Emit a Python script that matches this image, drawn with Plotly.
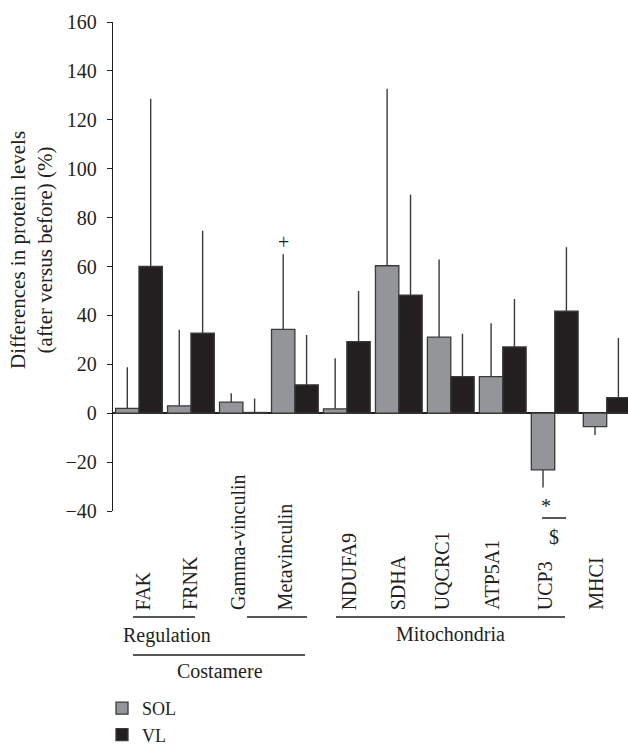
import plotly.graph_objects as go

# ---- data ----
categories = ["FAK", "FRNK", "Gamma-vinculin", "Metavinculin", "NDUFA9",
              "SDHA", "UQCRC1", "ATP5A1", "UCP3", "MHCI"]
sol_values = [2.0, 3.0, 4.5, 34.3, 1.8, 60.3, 31.1, 15.0, -23.2, -5.5]
sol_sd = [16.8, 31.1, 3.7, 30.7, 20.7, 72.4, 31.8, 21.8, 7.2, 3.4]
vl_values = [60.0, 32.7, 0.3, 11.6, 29.3, 48.3, 15.0, 27.1, 41.7, 6.4]
vl_sd = [68.6, 41.9, 5.7, 20.4, 20.7, 41.1, 17.5, 19.6, 26.2, 24.4]
series_names = ["SOL", "VL"]
y_ticks = [-40, -20, 0, 20, 40, 60, 80, 100, 120, 140, 160]
y_title = "Differences in protein levels<br>(after versus before) (%)"
group_labels = ["Regulation", "Costamere", "Mitochondria"]

# ---- layout constants (pixels) ----
W, H = 628, 747
ML, MT, PT, PB = 113, 22, 22, 511  # plot left, top margin, plot top/bottom px
PW, PH = W - ML, PB - PT
FONT = "Liberation Serif, Times New Roman, serif"
INK = "#231f20"
SOL_C = "#939598"
VL_C = "#231f20"
EDGE = "#3a3a3a"


def px_x(p):
    return (p - ML) / PW


def px_y(p):
    return (PB - p) / PH


def err_split(vals, sds):
    plus = [s if v >= 0 else 0 for v, s in zip(vals, sds)]
    minus = [s if v < 0 else 0 for v, s in zip(vals, sds)]
    return plus, minus


fig = go.Figure()
for name, vals, sds, col in [(series_names[0], sol_values, sol_sd, SOL_C),
                             (series_names[1], vl_values, vl_sd, VL_C)]:
    plus, minus = err_split(vals, sds)
    fig.add_trace(go.Bar(
        x=categories, y=vals, name=name,
        marker=dict(color=col, line=dict(color=EDGE, width=1.3)),
        error_y=dict(type="data", symmetric=False, array=plus, arrayminus=minus,
                     color=EDGE, thickness=1.4, width=0),
    ))

annotations = []
shapes = []

# y-axis title
annotations.append(dict(text=y_title, x=px_x(31), y=px_y(250), xref="paper", yref="paper",
                        textangle=-90, showarrow=False, xanchor="center", yanchor="middle",
                        font=dict(family=FONT, size=21, color=INK)))

# category labels, rotated, bottom-aligned
label_xshift = [4, -1, -5, -10, 2, -1, -9, -11, -10, -11]
for i, (c, dx) in enumerate(zip(categories, label_xshift)):
    annotations.append(dict(text=c, x=i, y=px_y(612), xref="x", yref="paper",
                            xshift=dx, textangle=-90, showarrow=False,
                            xanchor="center", yanchor="bottom",
                            font=dict(family=FONT, size=20, color=INK)))

# group lines
line_style = dict(color=INK, width=1.5)
for (x0, x1, yy) in [(133, 195, 617), (247, 307, 617), (336, 565, 617), (133, 305, 655),
                     (542, 566, 518)]:
    shapes.append(dict(type="line", xref="paper", yref="paper",
                       x0=px_x(x0), x1=px_x(x1), y0=px_y(yy), y1=px_y(yy), line=line_style))

# group label text
for txt, cx, cy in [(group_labels[0], 167, 635), (group_labels[1], 220, 671),
                    (group_labels[2], 450, 634)]:
    annotations.append(dict(text=txt, x=px_x(cx), y=px_y(cy), xref="paper", yref="paper",
                            showarrow=False, xanchor="center", yanchor="middle",
                            font=dict(family=FONT, size=20, color=INK)))

# significance marks
annotations.append(dict(text="+", x=3 - 0.225, y=70, xref="x", yref="y", showarrow=False,
                        xanchor="center", yanchor="middle",
                        font=dict(family=FONT, size=20, color=INK)))
annotations.append(dict(text="*", x=px_x(546), y=px_y(506), xref="paper", yref="paper",
                        showarrow=False, xanchor="center", yanchor="middle",
                        font=dict(family=FONT, size=20, color=INK)))
annotations.append(dict(text="$", x=px_x(554), y=px_y(537), xref="paper", yref="paper",
                        showarrow=False, xanchor="center", yanchor="middle",
                        font=dict(family=FONT, size=20, color=INK)))

fig.update_layout(
    width=W, height=H,
    margin=dict(l=ML, r=0, t=MT, b=H - PB, pad=0, autoexpand=False),
    paper_bgcolor="white", plot_bgcolor="white",
    barmode="group", bargap=0.1, bargroupgap=0,
    font=dict(family=FONT, size=20, color=INK),
    showlegend=True,
    legend=dict(x=px_x(102), y=px_y(690), xanchor="left", yanchor="top",
                orientation="v", font=dict(family=FONT, size=18, color=INK),
                bgcolor="rgba(0,0,0,0)", traceorder="normal"),
    annotations=annotations, shapes=shapes,
)
fig.update_xaxes(type="category", range=[-0.5, 9.41], showticklabels=False, ticks="",
                 showline=False, showgrid=False, zeroline=False)
fig.update_yaxes(range=[-40, 160], tickvals=y_ticks, showgrid=False,
                 showline=True, linecolor=INK, linewidth=1.3,
                 ticks="outside", ticklen=5, tickwidth=1.3, tickcolor=INK,
                 zeroline=True, zerolinecolor=INK, zerolinewidth=1.5,
                 tickfont=dict(family=FONT, size=20, color=INK), ticklabelstandoff=6)

fig.write_html("out.html", config={"displayModeBar": False},
               post_script="document.body.style.margin='0px';document.body.style.overflow='hidden';")
